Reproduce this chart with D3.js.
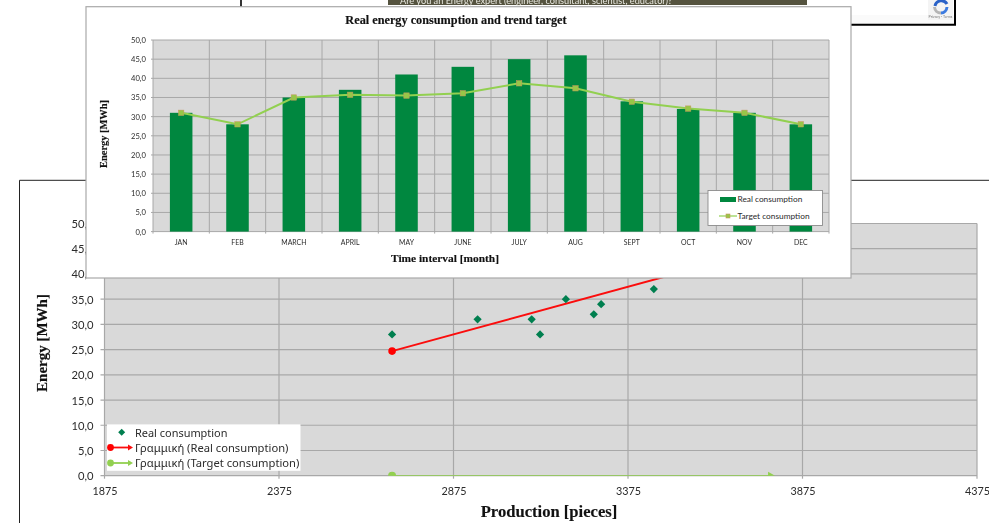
<!DOCTYPE html>
<html><head><meta charset="utf-8">
<script src="https://cdn.jsdelivr.net/npm/d3@7"></script>
<style>
html,body{margin:0;padding:0;background:#fff;overflow:hidden}
svg{display:block;filter:blur(0.35px)}
text{font-family:Lato,"Noto Sans",sans-serif;fill:#2b2b2b}
.serif{font-family:"Liberation Serif",serif;font-weight:bold;fill:#111;stroke:#111;stroke-width:0.15}
.gr{font-family:"Noto Sans",sans-serif}
</style></head><body>
<svg id="c" width="989" height="523"></svg>
<script>
const months=["JAN","FEB","MARCH","APRIL","MAY","JUNE","JULY","AUG","SEPT","OCT","NOV","DEC"];
const realConsumption=[31,28,35,37,41,43,45,46,34,32,31,28];
const targetConsumption=[31,28,35,35.7,35.5,36.1,38.7,37.4,33.9,32.1,31,28];
const yTicks=[0,5,10,15,20,25,30,35,40,45,50];
const prodTicks=[1875,2375,2875,3375,3875,4375];
const production=[2699,2944,3099,3123,3197,3277,3298,3449];
const scatterEnergy=[28,31,31,28,35,32,34,37];
const trendX=[2699,3785];
const realTrend=[24.7,45.2];
const targetTrend=[0,0];
const topTitle="Real energy consumption and trend target";
const bannerText="Are you an Energy expert (engineer, consultant, scientist, educator)?";

const svg=d3.select("#c");
const comma=v=>d3.format(".1f")(v).replace(".",",");
const GRID="#a8a8a8",PLOT="#d9d9d9",BAR="#00873f",LINE="#92d050",MARK="#98c648",MARKS="#c9965f",DIA="#007f4f";

// page fragments behind the charts
svg.append("rect").attr("x",388).attr("y",0).attr("width",419).attr("height",5).attr("fill","#55533f");
svg.append("text").attr("x",400).attr("y",4).attr("font-size",9.2).style("fill","#e8e8e0").text(bannerText);
svg.append("line").attr("x1",241).attr("x2",241).attr("y1",0).attr("y2",7).attr("stroke","#000").attr("stroke-width",1.6);
svg.append("rect").attr("x",851).attr("y",15).attr("width",103).attr("height",9).attr("fill","#fafafa");
svg.append("path").attr("d","M851,24.8H955V0").attr("fill","none").attr("stroke","#000").attr("stroke-width",2);
svg.append("rect").attr("x",928).attr("y",0).attr("width",25).attr("height",20).attr("fill","#f4f4f4");
svg.append("path").attr("d","M935,6 A6.5,6.5 0 0 1 947,4").attr("fill","none").attr("stroke","#2a62c8").attr("stroke-width",3);
svg.append("path").attr("d","M947,7 A6.5,6.5 0 0 1 941,13").attr("fill","none").attr("stroke","#3c7be0").attr("stroke-width",3);
svg.append("path").attr("d","M941,13 A6.5,6.5 0 0 1 934.5,7").attr("fill","none").attr("stroke","#b5b5b5").attr("stroke-width",3);
svg.append("text").attr("x",940.5).attr("y",18).attr("text-anchor","middle").attr("font-size",3.6).style("fill","#777").text("Privacy - Terms");
svg.append("path").attr("d","M19.5,523V180.3H989").attr("fill","none").attr("stroke","#222").attr("stroke-width",1);

// lower scatter chart
const xS=d3.scaleLinear().domain([1875,4375]).range([104.5,977]);
const yS=d3.scaleLinear().domain([0,50]).range([475.7,223.5]);
const low=svg.append("g");
svg.append("clipPath").attr("id","lowClip").append("rect").attr("x",xS(1875)).attr("y",yS(50)).attr("width",xS(4375)-xS(1875)).attr("height",yS(0)-yS(50));
low.append("rect").attr("x",xS(1875)).attr("y",yS(50)).attr("width",xS(4375)-xS(1875)).attr("height",yS(0)-yS(50)).attr("fill",PLOT);
low.append("g").selectAll("line").data(yTicks).join("line").attr("x1",xS(1875)-4).attr("x2",xS(4375)).attr("y1",d=>yS(d)).attr("y2",d=>yS(d)).attr("stroke",GRID).attr("stroke-width",1.2);
low.append("g").selectAll("line").data(prodTicks).join("line").attr("y1",yS(50)).attr("y2",yS(0)+3).attr("x1",d=>xS(d)).attr("x2",d=>xS(d)).attr("stroke",GRID).attr("stroke-width",1.2);
const lowY=low.append("g").attr("transform",`translate(${xS(1875)},0)`).call(d3.axisLeft(yS).tickValues(yTicks).tickFormat(comma).tickSize(0).tickPadding(11));
lowY.select(".domain").remove();
lowY.selectAll("text").attr("font-size",11.2).style("font-family","Lato").style("fill","#2b2b2b").attr("dy","0.36em");
const lowX=low.append("g").attr("transform",`translate(0,${yS(0)})`).call(d3.axisBottom(xS).tickValues(prodTicks).tickFormat(d3.format("d")).tickSize(0).tickPadding(11.5));
lowX.select(".domain").remove();
lowX.selectAll("text").attr("font-size",10.8).style("font-family","Lato").style("fill","#2b2b2b");
low.append("text").attr("class","serif").attr("x",549).attr("y",517).attr("text-anchor","middle").attr("font-size",16.6).text("Production [pieces]");
low.append("text").attr("class","serif").attr("transform","translate(47,343) rotate(-90)").attr("text-anchor","middle").attr("font-size",15).text("Energy [MWh]");
const tl=d3.line().x(d=>xS(d[0])).y(d=>yS(d[1]));
const greenTrend=low.append("g").attr("clip-path","url(#lowClip)");
greenTrend.append("path").attr("d",tl(d3.zip(trendX,targetTrend))).attr("stroke",LINE).attr("stroke-width",1.6).attr("fill","none");
greenTrend.append("path").attr("transform",`translate(${xS(trendX[1])+1},${yS(0)})`).attr("d","M-4,-4L3,0L-4,1Z").attr("fill",LINE);
greenTrend.append("circle").attr("cx",xS(trendX[0])).attr("cy",yS(0)).attr("r",4).attr("fill",LINE);
low.append("path").attr("d",tl(d3.zip(trendX,realTrend))).attr("stroke","#fb0d0d").attr("stroke-width",2).attr("fill","none");
low.append("circle").attr("cx",xS(trendX[0])).attr("cy",yS(realTrend[0])).attr("r",3.8).attr("fill","#f00");
const dia=d3.symbol().type(d3.symbolSquare).size(34);
low.append("g").selectAll("path").data(d3.zip(production,scatterEnergy)).join("path").attr("d",dia).attr("fill",DIA)
 .attr("transform",d=>`translate(${xS(d[0])},${yS(d[1])}) rotate(45)`);
// lower legend
const ll=low.append("g");
ll.append("rect").attr("x",107).attr("y",424.3).attr("width",193.5).attr("height",46.5).attr("fill","#fff");
ll.append("path").attr("d",dia).attr("fill",DIA).attr("transform","translate(121.7,432.3) rotate(45) scale(0.85)");
ll.append("text").attr("class","gr").attr("x",135).attr("y",436.5).attr("font-size",10.95).text("Real consumption");
[["#f00","#fb0d0d",447.5,"Γραμμική (Real consumption)"],[LINE,LINE,463,"Γραμμική (Target consumption)"]].forEach(r=>{
 ll.append("line").attr("x1",110).attr("x2",130).attr("y1",r[2]).attr("y2",r[2]).attr("stroke",r[1]).attr("stroke-width",1.8);
 ll.append("circle").attr("cx",110.5).attr("cy",r[2]).attr("r",3.4).attr("fill",r[0]);
 ll.append("path").attr("d",`M128,${r[2]-3}L133,${r[2]}L128,${r[2]+3}Z`).attr("fill",r[1]);
 ll.append("text").attr("class","gr").attr("x",135).attr("y",r[2]+4).attr("font-size",11.2).text(r[3]);
});

// upper panel
svg.append("rect").attr("x",86).attr("y",6.7).attr("width",765).attr("height",271.3).attr("fill","#fff").attr("stroke","#a9a9a9").attr("stroke-width",1.2);
const up=svg.append("g");
const xB=d3.scaleBand().domain(months).range([153,829]).paddingInner(0.6).paddingOuter(0.3);
const bandStep=xB.step();
const yT=d3.scaleLinear().domain([0,50]).range([231.6,40]);
up.append("rect").attr("x",153).attr("y",yT(50)).attr("width",676).attr("height",yT(0)-yT(50)).attr("fill",PLOT);
up.append("g").selectAll("line").data(yTicks).join("line").attr("x1",151).attr("x2",829).attr("y1",d=>yT(d)).attr("y2",d=>yT(d)).attr("stroke",GRID).attr("stroke-width",1);
up.append("g").selectAll("line").data(d3.range(13)).join("line").attr("x1",d=>153+d*bandStep).attr("x2",d=>153+d*bandStep).attr("y1",yT(50)).attr("y2",yT(0)+2).attr("stroke",GRID).attr("stroke-width",1);
up.append("g").selectAll("rect").data(realConsumption).join("rect")
 .attr("x",(d,i)=>xB(months[i])).attr("width",xB.bandwidth()).attr("y",d=>yT(d)).attr("height",d=>yT(0)-yT(d)).attr("fill",BAR);
const cx=i=>xB(months[i])+xB.bandwidth()/2;
up.append("path").attr("d",d3.line().x((d,i)=>cx(i)).y(d=>yT(d))(targetConsumption)).attr("fill","none").attr("stroke",LINE).attr("stroke-width",2);
up.append("g").selectAll("rect").data(targetConsumption).join("rect").attr("x",(d,i)=>cx(i)-2.7).attr("y",d=>yT(d)-2.7).attr("width",5.4).attr("height",5.4).attr("fill",MARK).attr("stroke",MARKS).attr("stroke-width",0.5);
const upY=up.append("g").attr("transform","translate(153,0)").call(d3.axisLeft(yT).tickValues(yTicks).tickFormat(comma).tickSize(0).tickPadding(7));
upY.select(".domain").remove();
upY.selectAll("text").attr("font-size",7.6).style("font-family","Lato").style("fill","#2b2b2b");
const upX=up.append("g").attr("transform",`translate(0,${yT(0)})`).call(d3.axisBottom(xB).tickSize(0).tickPadding(9));
upX.select(".domain").remove();
upX.selectAll("text").attr("font-size",6.9).style("font-family","Lato").style("fill","#2b2b2b");
up.append("text").attr("class","serif").attr("x",456).attr("y",24).attr("text-anchor","middle").attr("font-size",12.25).text(topTitle);
up.append("text").attr("class","serif").attr("x",445).attr("y",262).attr("text-anchor","middle").attr("font-size",11.4).text("Time interval [month]");
up.append("text").attr("class","serif").attr("transform","translate(107,134) rotate(-90)").attr("text-anchor","middle").attr("font-size",10.4).text("Energy [MWh]");
// upper legend
const ul=up.append("g");
ul.append("rect").attr("x",708).attr("y",190.5).attr("width",114.5).attr("height",35).attr("fill","#fff").attr("stroke","#8c8c8c").attr("stroke-width",0.9);
ul.append("rect").attr("x",720).attr("y",197).attr("width",16).attr("height",5).attr("fill",BAR);
ul.append("text").attr("x",737.5).attr("y",201.8).attr("font-size",8.3).text("Real consumption");
ul.append("line").attr("x1",719).attr("x2",737).attr("y1",216).attr("y2",216).attr("stroke",LINE).attr("stroke-width",1.2);
ul.append("rect").attr("x",726).attr("y",214).attr("width",4).attr("height",4).attr("fill",MARK).attr("stroke",MARKS).attr("stroke-width",0.6);
ul.append("text").attr("x",737.5).attr("y",219).attr("font-size",8.3).text("Target consumption");
</script></body></html>
